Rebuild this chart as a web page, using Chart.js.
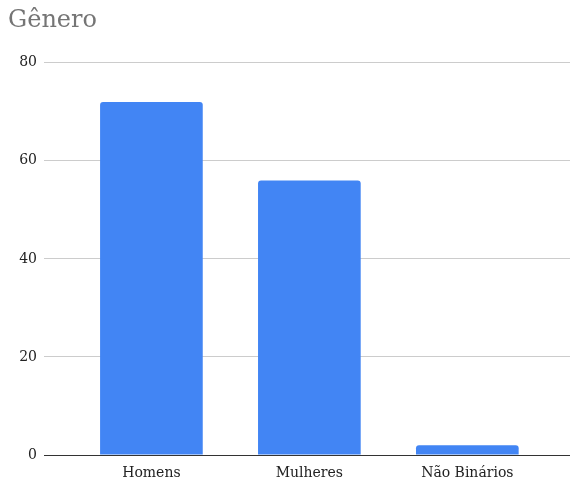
<!DOCTYPE html>
<html lang="pt">
<head>
    <meta charset="UTF-8">
    <title>Gênero</title>
    <script src="https://cdn.jsdelivr.net/npm/chart.js"></script>
    <style>
        body {
            margin: 0;
            background-color: #ffffff;
        }
        #chartContainer {
            width: 570px;
            height: 480px;
        }
    </style>
</head>
<body>

    <div id="chartContainer">
        <canvas id="generoChart"></canvas>
    </div>

    <script>
        // Dados do gráfico
        const categorias = ['Homens', 'Mulheres', 'Não Binários'];
        const respostas = [72, 56, 2];
        const yTicks = [0, 20, 40, 60, 80];

        const serif = "'DejaVu Serif', 'Liberation Serif', serif";

        const ctx = document.getElementById('generoChart').getContext('2d');

        // eixo x linear para deixar uma margem maior nas laterais, como no Sheets
        const pontos = respostas.map((v, i) => ({ x: i, y: v }));

        const generoChart = new Chart(ctx, {
            type: 'bar',
            data: {
                datasets: [{
                    label: 'Gênero',
                    data: pontos,
                    backgroundColor: '#4285f4',
                    borderRadius: { topLeft: 3, topRight: 3, bottomLeft: 0, bottomRight: 0 },
                    borderSkipped: 'start',
                    barPercentage: 0.65,
                    categoryPercentage: 1
                }]
            },
            options: {
                responsive: true,
                maintainAspectRatio: false,
                animation: false,
                layout: {
                    padding: { left: 8, right: 0, top: 0, bottom: 0 }
                },
                plugins: {
                    legend: { display: false },
                    tooltip: { enabled: false },
                    title: {
                        display: true,
                        text: 'Gênero',
                        align: 'start',
                        color: '#757575',
                        font: { family: serif, size: 24, weight: 'normal' },
                        padding: { top: 6, bottom: 28 }
                    }
                },
                scales: {
                    x: {
                        type: 'linear',
                        min: -0.68,
                        max: 2.65,
                        offset: false,
                        grid: { display: false },
                        border: { display: true, color: '#333333', width: 1 },
                        ticks: {
                            stepSize: 1,
                            includeBounds: false,
                            autoSkip: false,
                            maxRotation: 0,
                            color: '#222222',
                            padding: 2,
                            font: { family: serif, size: 14 },
                            callback: (v) => Number.isInteger(v) && categorias[v] !== undefined ? categorias[v] : ''
                        },
                        afterFit: (scale) => { scale.height = 25; }
                    },
                    y: {
                        min: 0,
                        max: 80,
                        afterBuildTicks: (scale) => {
                            scale.ticks = yTicks.map(v => ({ value: v }));
                        },
                        grid: {
                            drawTicks: false,
                            color: (c) => c.tick && c.tick.value === 0 ? '#333333' : '#cccccc'
                        },
                        border: { display: false },
                        ticks: {
                            color: '#222222',
                            padding: 7,
                            font: { family: serif, size: 14 }
                        },
                        afterFit: (scale) => { scale.width = 36; }
                    }
                }
            }
        });
    </script>

</body>
</html>
